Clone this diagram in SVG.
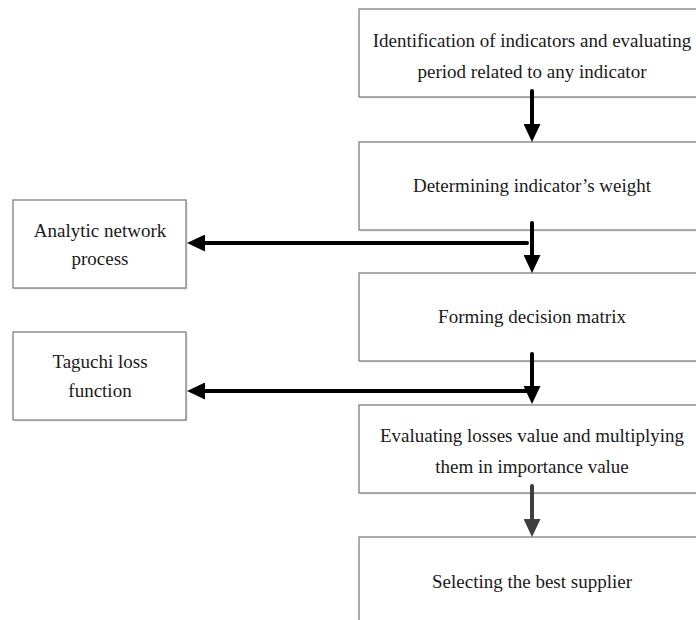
<svg xmlns="http://www.w3.org/2000/svg" width="696" height="620" viewBox="0 0 696 620">
<style>
.box{fill:#ffffff;stroke:#7f7f7f;stroke-width:1.3}
.sh{fill:#e4e4e4}
.t{font-family:"Liberation Serif","Times New Roman",serif;font-size:19px;fill:#1a1a1a;text-anchor:middle}
.c{stroke:#000;stroke-width:4;fill:none;stroke-linecap:round}
.c2{stroke:#3f3f3f;stroke-width:4;fill:none;stroke-linecap:round}
</style>
<defs>
<marker id="ah" viewBox="0 0 18 17" refX="6" refY="8.5" markerWidth="18" markerHeight="17" markerUnits="userSpaceOnUse" orient="auto">
<path d="M0,0 L18,8.5 L0,17 z" fill="#000"/>
</marker>
<marker id="ah2" viewBox="0 0 18 17" refX="6" refY="8.5" markerWidth="18" markerHeight="17" markerUnits="userSpaceOnUse" orient="auto">
<path d="M0,0 L18,8.5 L0,17 z" fill="#3f3f3f"/>
</marker>
</defs>
<rect width="696" height="620" fill="#fff"/>
<g id="n1"><rect class="sh" x="360.5" y="10.5" width="346" height="88"/><rect class="box" x="359" y="9" width="346" height="88"/>
<text class="t" x="532" y="47">Identification of indicators and evaluating</text>
<text class="t" x="532" y="78">period related to any indicator</text></g>
<g id="n2"><rect class="sh" x="360.5" y="143.5" width="346" height="88"/><rect class="box" x="359" y="142" width="346" height="88"/>
<text class="t" x="532" y="192">Determining indicator’s weight</text></g>
<g id="n3"><rect class="sh" x="360.5" y="274.5" width="346" height="88"/><rect class="box" x="359" y="273" width="346" height="88"/>
<text class="t" x="532" y="323">Forming decision matrix</text></g>
<g id="n4"><rect class="sh" x="360.5" y="406.5" width="346" height="88"/><rect class="box" x="359" y="405" width="346" height="88"/>
<text class="t" x="532" y="442">Evaluating losses value and multiplying</text>
<text class="t" x="532" y="473">them in importance value</text></g>
<g id="n5"><rect class="sh" x="360.5" y="538.5" width="346" height="88"/><rect class="box" x="359" y="537" width="346" height="88"/>
<text class="t" x="532" y="588">Selecting the best supplier</text></g>
<g id="n6"><rect class="sh" x="14.5" y="201.5" width="173" height="88"/><rect class="box" x="13" y="200" width="173" height="88"/>
<text class="t" x="100" y="237">Analytic network</text>
<text class="t" x="100" y="265">process</text></g>
<g id="n7"><rect class="sh" x="14.5" y="333.5" width="173" height="88"/><rect class="box" x="13" y="332" width="173" height="88"/>
<text class="t" x="100" y="368">Taguchi loss</text>
<text class="t" x="100" y="397">function</text></g>
<g id="connectors">
<line class="c" x1="532" y1="91" x2="532" y2="130" marker-end="url(#ah)"/>
<line class="c" x1="532" y1="223" x2="532" y2="261" marker-end="url(#ah)"/>
<line class="c" x1="527" y1="243" x2="199" y2="243" marker-end="url(#ah)"/>
<line class="c" x1="532" y1="354" x2="532" y2="392" marker-end="url(#ah)"/>
<line class="c" x1="529" y1="391" x2="199" y2="391" marker-end="url(#ah)"/>
<line class="c2" x1="532" y1="486" x2="532" y2="525" marker-end="url(#ah2)"/>
</g>
</svg>
